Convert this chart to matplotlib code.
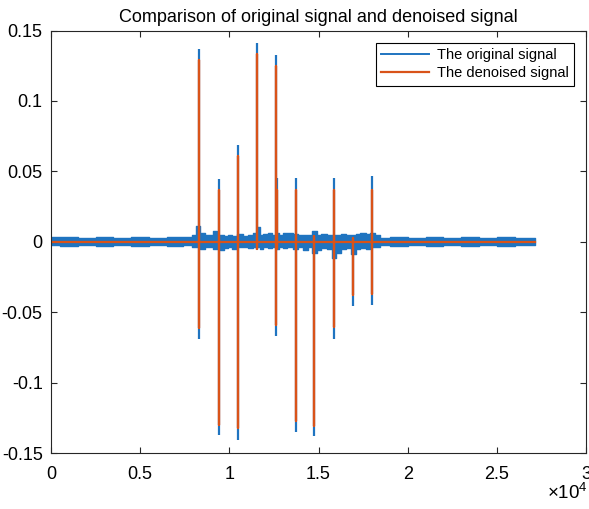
import numpy as np
import matplotlib
matplotlib.use("Agg")
import matplotlib.pyplot as plt
from matplotlib.ticker import FixedLocator, FuncFormatter

plt.rcParams["font.family"] = ["Liberation Sans", "DejaVu Sans"]
plt.rcParams["mathtext.fontset"] = "custom"
plt.rcParams["mathtext.rm"] = "Liberation Sans"
plt.rcParams["axes.unicode_minus"] = False

BLUE = "#1f74c0"
RED = "#D95319"
AXC = "#262626"

# spikes: sample index, original top/bottom, denoised top/bottom
spike_x   = [8320, 9440, 10470, 11570, 12590, 12670, 13730, 14770, 15890, 16940, 17990]
orig_top  = [0.137, 0.0443, 0.069, 0.141, 0.1328, 0.0453, 0.0453, 0.006, 0.0453, 0.004, 0.0465]
orig_bot  = [-0.069, -0.137, -0.141, -0.006, -0.067, -0.006, -0.1353, -0.138, -0.0687, -0.0457, -0.045]
den_top   = [0.129, 0.037, 0.061, 0.1335, 0.1247, 0.0365, 0.037, 0.004, 0.037, 0.003, 0.037]
den_bot   = [-0.061, -0.130, -0.1325, -0.0053, -0.059, -0.005, -0.127, -0.131, -0.0604, -0.038, -0.037]

# noise band of the original signal (upper / lower envelope)
env_x  = [0, 1000, 2000, 3000, 4000, 5000, 6000, 7000, 7800, 8000, 8250, 8500, 8800,
          9000, 9200, 9400, 9600, 9800, 10000, 10300, 10600, 10900, 11200, 11450,
          11600, 11800, 12000, 12300, 12500, 12700, 12900, 13100, 13400, 13700,
          14000, 14300, 14500, 14800, 15000, 15300, 15600, 15900, 16100, 16400,
          16700, 16950, 17200, 17500, 17800, 18000, 18340, 18500, 19500, 20500,
          21500, 22500, 23500, 24500, 25500, 26500, 27150]
env_hi = [0.0035, 0.0035, 0.003, 0.0035, 0.003, 0.0035, 0.003, 0.0035, 0.0035, 0.005,
          0.011, 0.006, 0.005, 0.005, 0.0075, 0.005, 0.005, 0.004, 0.005, 0.004,
          0.0055, 0.004, 0.005, 0.006, 0.0105, 0.005, 0.0055, 0.006, 0.005, 0.0065,
          0.005, 0.006, 0.0065, 0.0055, 0.0045, 0.005, 0.0045, 0.0075, 0.005,
          0.0055, 0.005, 0.0045, 0.005, 0.0055, 0.005, 0.0045, 0.0055, 0.006,
          0.0055, 0.0065, 0.005, 0.003, 0.0035, 0.003, 0.0035, 0.003, 0.0035,
          0.003, 0.0035, 0.003, 0.003]
env_lo = [-0.0025, -0.003, -0.0025, -0.003, -0.0025, -0.003, -0.0025, -0.003, -0.0025,
          -0.004, -0.004, -0.005, -0.004, -0.004, -0.005, -0.005, -0.0055, -0.0045,
          -0.004, -0.005, -0.004, -0.004, -0.0045, -0.004, -0.004, -0.005, -0.004,
          -0.0045, -0.004, -0.005, -0.004, -0.0045, -0.004, -0.005, -0.004, -0.0055,
          -0.004, -0.0078, -0.006, -0.0045, -0.005, -0.0114, -0.008, -0.005,
          -0.0045, -0.009, -0.005, -0.0045, -0.005, -0.004, -0.004, -0.0025,
          -0.003, -0.0025, -0.003, -0.0025, -0.003, -0.0025, -0.003, -0.0025, -0.0025]
sig_end = 27150

fig = plt.figure(figsize=(5.89, 5.09), dpi=100)
ax = fig.add_axes([0.0866, 0.110, 0.9084, 0.830])

# original signal
ax.fill_between(env_x, env_lo, env_hi, step="mid", color=BLUE, lw=1.0, edgecolor=BLUE)
ax.vlines(spike_x, orig_bot, orig_top, color=BLUE, lw=1.6)
ax.plot([], [], color=BLUE, lw=1.4, label="The original signal")

# denoised signal
rx, ry = [0], [0.0]
for x, t, b in zip(spike_x, den_top, den_bot):
    rx += [x, x, x, x]
    ry += [0.0, t, b, 0.0]
rx.append(sig_end)
ry.append(0.0)
ax.plot(rx, ry, color=RED, lw=1.6, label="The denoised signal")

ax.set_xlim(0, 30000)
ax.set_ylim(-0.15, 0.15)
ax.xaxis.set_major_locator(FixedLocator(np.arange(0, 30001, 5000)))
ax.xaxis.set_major_formatter(FuncFormatter(lambda v, p: f"{v / 1e4:g}"))
ax.yaxis.set_major_locator(FixedLocator(np.arange(-0.15, 0.151, 0.05)))
ax.yaxis.set_major_formatter(FuncFormatter(lambda v, p: f"{round(v, 2):g}"))
ax.tick_params(direction="in", length=4, width=0.8, top=True, right=True,
               colors=AXC, labelsize=13, labelcolor="black", pad=6)
ax.tick_params(axis="x", pad=9)
for s in ax.spines.values():
    s.set_color(AXC)
    s.set_linewidth(0.8)

ax.set_title("Comparison of original signal and denoised signal", fontsize=13, pad=6)
fig.text(0.998, 0.012, r"$\times10^{4}$", ha="right", va="bottom", fontsize=13.5)

leg = ax.legend(loc="upper right", fontsize=10.5, handlelength=3.3, fancybox=False,
                edgecolor="black", framealpha=1, borderaxespad=0.85,
                borderpad=0.35, labelspacing=0.3, handletextpad=0.5)
leg.get_frame().set_linewidth(0.8)

fig.savefig("out.png", dpi=100)
